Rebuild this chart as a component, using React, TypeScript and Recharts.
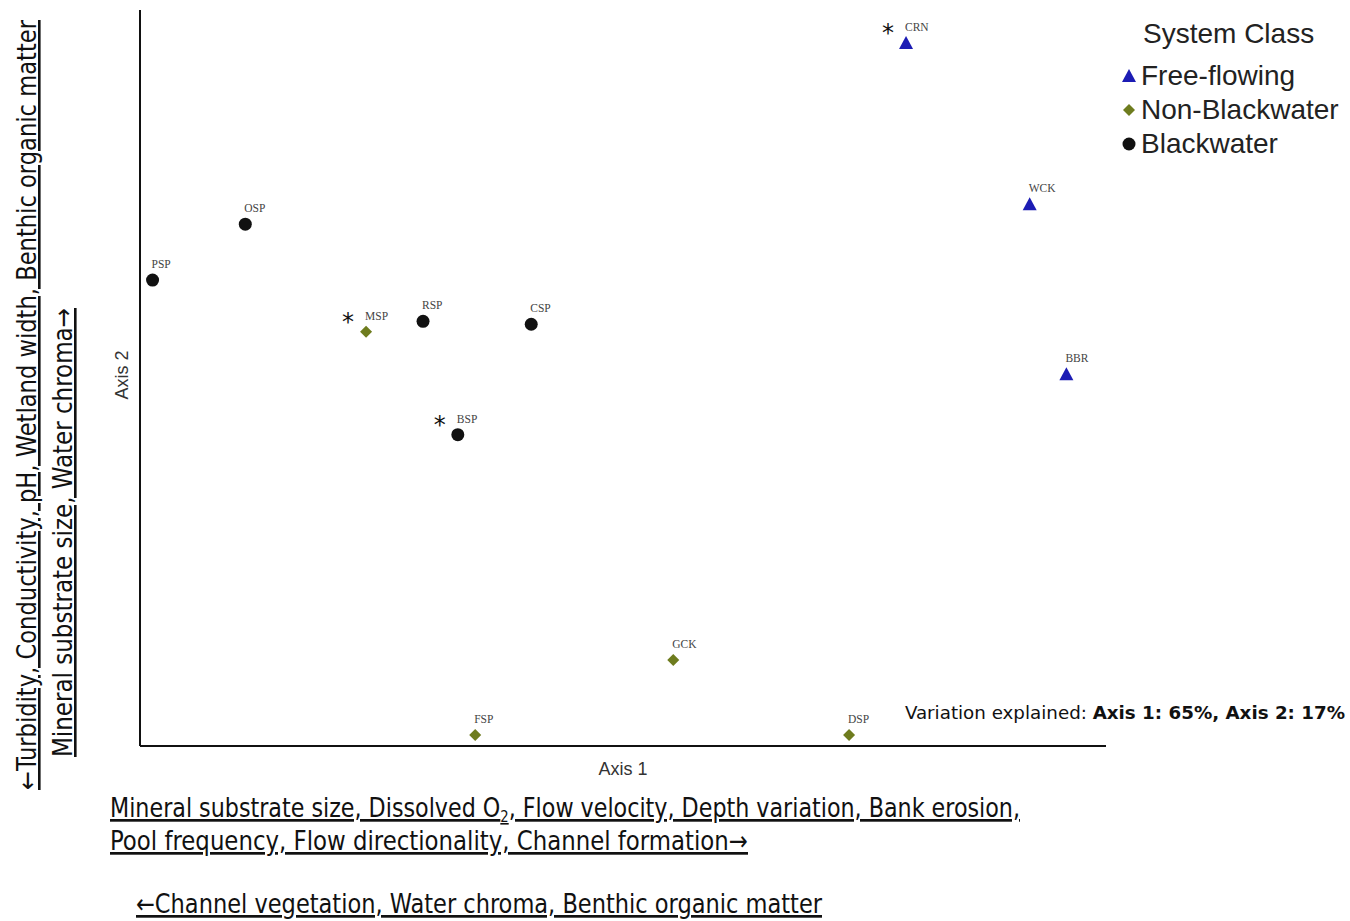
import React from 'react';
import { ScatterChart, Scatter, XAxis, YAxis, Legend } from 'recharts';

// site codes and ordination scores (axes scaled 0-100)
const siteNames = ['CRN', 'WCK', 'BBR', 'OSP', 'PSP', 'RSP', 'CSP', 'BSP', 'MSP', 'GCK', 'FSP', 'DSP'];
const axis1Scores = [79.3, 92.1, 95.9, 10.9, 1.3, 29.3, 40.5, 32.9, 23.4, 55.2, 34.7, 73.4];
const axis2Scores = [95.5, 73.6, 50.5, 70.9, 63.3, 57.7, 57.3, 42.3, 56.3, 11.7, 1.5, 1.5];
const systemClass = ['free', 'free', 'free', 'black', 'black', 'black', 'black', 'black', 'non', 'non', 'non', 'non'];
const starred = [true, false, false, false, false, false, false, true, true, false, false, false];

const classNames = ['Free-flowing', 'Non-Blackwater', 'Blackwater'];
const classKeys = ['free', 'non', 'black'];
const classColors = ['#1c1cb4', '#6e7c1e', '#111111'];

const W = 1350;
const H = 921;

const points = siteNames.map((name, i) => ({
  name,
  x: axis1Scores[i],
  y: axis2Scores[i],
  cls: systemClass[i],
  star: starred[i],
}));

const Marker = ({ kind, cx, cy, color }: any) => {
  if (kind === 'free') {
    return <polygon points={`${cx},${cy - 7} ${cx - 7},${cy + 6} ${cx + 7},${cy + 6}`} fill={color} />;
  }
  if (kind === 'non') {
    return <polygon points={`${cx},${cy - 6} ${cx + 6},${cy} ${cx},${cy + 6} ${cx - 6},${cy}`} fill={color} />;
  }
  return <circle cx={cx} cy={cy} r={6.5} fill={color} />;
};

const makeShape = (kind: string, color: string) => (props: any) => {
  const { cx, cy, payload } = props;
  return (
    <g>
      <Marker kind={kind} cx={cx} cy={cy} color={color} />
      <text x={cx - 1} y={cy - 12} fontFamily="'Liberation Serif', 'DejaVu Serif', serif" fontSize={11.5} fill="#444">
        {payload.name}
      </text>
      {payload.star && (
        <text x={cx - 18} y={cy - 2} fontFamily="'DejaVu Sans', sans-serif" fontSize={24} fill="#111" textAnchor="middle">
          *
        </text>
      )}
    </g>
  );
};

const LegendBox = () => (
  <div style={{ fontFamily: "'Liberation Sans', Arial, sans-serif", color: '#222' }}>
    <div style={{ fontSize: 28, marginLeft: 37, lineHeight: '38px', marginBottom: 6 }}>System Class</div>
    {classNames.map((n, i) => (
      <div key={n} style={{ display: 'flex', alignItems: 'center', height: 34, marginLeft: 9 }}>
        <svg width={24} height={20} style={{ marginRight: 2 }}>
          <Marker kind={classKeys[i]} cx={14} cy={10} color={classColors[i]} />
        </svg>
        <span style={{ fontSize: 28 }}>{n}</span>
      </div>
    ))}
  </div>
);

const narrow = "'Liberation Sans Narrow', 'DejaVu Sans Condensed', 'Liberation Sans', sans-serif";

export default function App() {
  return (
    <div style={{ position: 'absolute', left: 0, top: 0, width: W, height: H, background: '#fff' }}>
      <ScatterChart width={W} height={H} margin={{ top: 10, right: 244, bottom: 174, left: 139 }}>
        <XAxis
          type="number"
          dataKey="x"
          domain={[0, 100]}
          height={1}
          tick={false}
          tickLine={false}
          axisLine={{ stroke: '#111', strokeWidth: 2 }}
        />
        <YAxis
          type="number"
          dataKey="y"
          domain={[0, 100]}
          width={1}
          tick={false}
          tickLine={false}
          axisLine={{ stroke: '#111', strokeWidth: 2 }}
        />
        <Legend
          layout="vertical"
          align="center"
          verticalAlign="middle"
          content={<LegendBox />}
          wrapperStyle={{ position: 'absolute', left: 1106, top: 15, width: 244 }}
        />
        {classKeys.map((k, i) => (
          <Scatter
            key={k}
            name={classNames[i]}
            data={points.filter((p) => p.cls === k)}
            shape={makeShape(k, classColors[i])}
            isAnimationActive={false}
          />
        ))}
      </ScatterChart>

      <svg width={W} height={H} style={{ position: 'absolute', left: 0, top: 0, pointerEvents: 'none' }}>
        <text x={623} y={775} textAnchor="middle" fontFamily="'Liberation Sans', Arial, sans-serif" fontSize={18} fill="#333">
          Axis 1
        </text>
        <text x={128} y={375} transform="rotate(-90, 128, 375)" textAnchor="middle" fontFamily="'Liberation Sans', Arial, sans-serif" fontSize={18} fill="#333">
          Axis 2
        </text>

        <text x={905} y={719} fontFamily={narrow} fontSize={18} fill="#111" textLength={440} lengthAdjust="spacingAndGlyphs">
          <tspan>Variation explained:  </tspan>
          <tspan fontWeight="bold">Axis 1:  65%, Axis 2: 17%</tspan>
        </text>

        <text x={36} y={790} transform="rotate(-90, 36, 790)" fontFamily={narrow} fontSize={26} fill="#111" textDecoration="underline" textLength={770} lengthAdjust="spacingAndGlyphs">
          ←Turbidity, Conductivity, pH, Wetland width, Benthic organic matter
        </text>
        <text x={72} y={757} transform="rotate(-90, 72, 757)" fontFamily={narrow} fontSize={26} fill="#111" textDecoration="underline" textLength={449} lengthAdjust="spacingAndGlyphs">
          Mineral substrate size, Water chroma→
        </text>

        <text x={110} y={817} fontFamily={narrow} fontSize={27} fill="#111" textDecoration="underline" textLength={910} lengthAdjust="spacingAndGlyphs">
          Mineral substrate size, Dissolved O<tspan fontSize={16} dy={5}>2</tspan><tspan dy={-5}>, Flow velocity, Depth variation, Bank erosion,</tspan>
        </text>
        <text x={110} y={850} fontFamily={narrow} fontSize={27} fill="#111" textDecoration="underline" textLength={638} lengthAdjust="spacingAndGlyphs">
          Pool frequency, Flow directionality, Channel formation→
        </text>
        <text x={136} y={913} fontFamily={narrow} fontSize={27} fill="#111" textDecoration="underline" textLength={686} lengthAdjust="spacingAndGlyphs">
          ←Channel vegetation, Water chroma, Benthic organic matter
        </text>
      </svg>
    </div>
  );
}
